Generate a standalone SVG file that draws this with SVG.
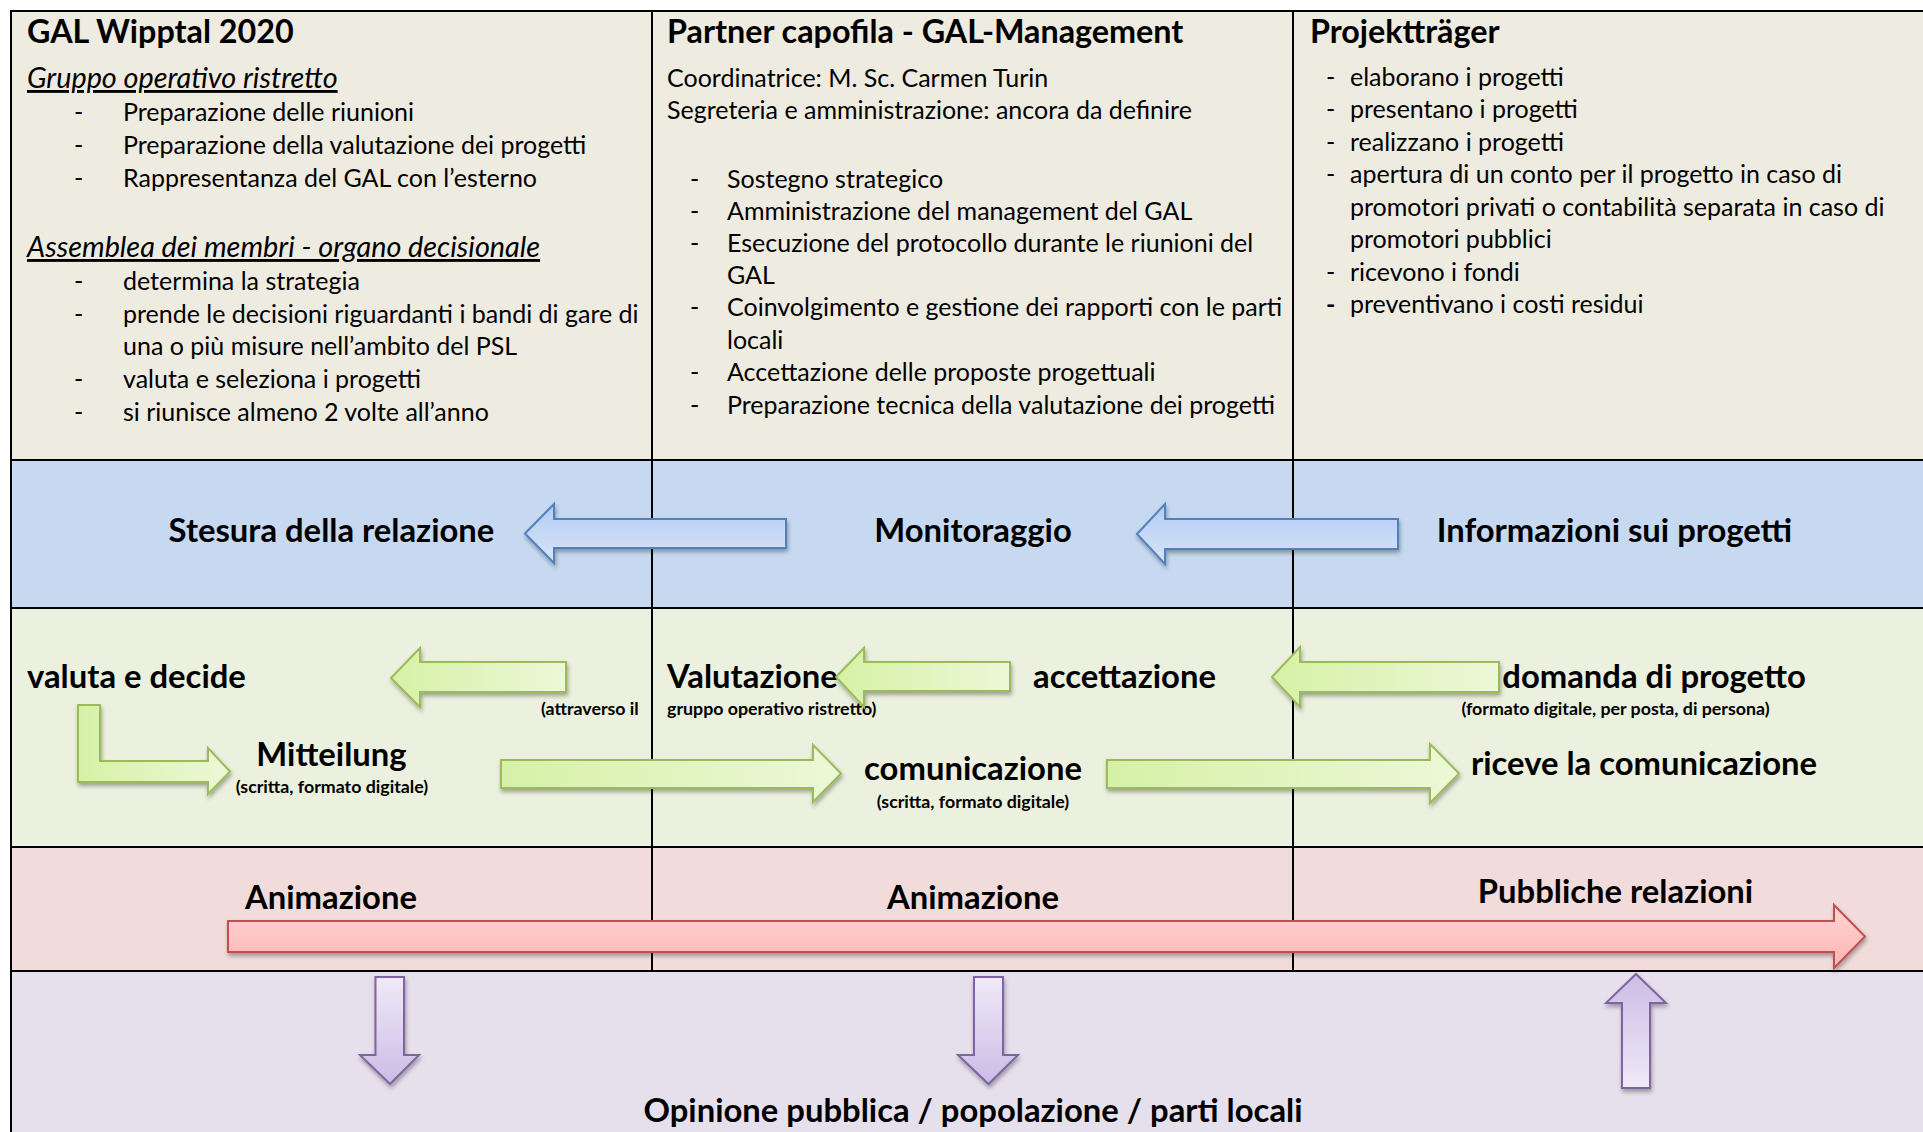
<svg xmlns="http://www.w3.org/2000/svg" width="1923" height="1132" viewBox="0 0 1923 1132">
<defs>
<style>
.t{font-family:Lato,"Open Sans","Liberation Sans",sans-serif;fill:#000}
.h{font-weight:bold;font-size:32.3px}
.b{font-size:25px}
.u{font-style:italic;text-decoration:underline;font-size:28.8px}
.L{font-weight:bold;font-size:32.8px}
.s{font-weight:bold;font-size:17.8px}
.m{text-anchor:middle}
.grid{stroke:#000;stroke-width:2;fill:none}
.blue{fill:url(#gBlue);stroke:#4F81BD;stroke-width:2;filter:url(#sh)}
.green{fill:url(#gGreen);stroke:#9BBB59;stroke-width:2;filter:url(#sh)}
.red{fill:url(#gRed);stroke:#C0504D;stroke-width:2;filter:url(#sh)}
.pd{fill:url(#gPurD);stroke:#8064A2;stroke-width:2;filter:url(#sh)}
.pu{fill:url(#gPurU);stroke:#8064A2;stroke-width:2;filter:url(#sh)}
</style>
<filter id="sh" x="-10%" y="-30%" width="130%" height="170%">
<feDropShadow dx="1" dy="3" stdDeviation="2" flood-color="#000" flood-opacity="0.33"/>
</filter>
<linearGradient id="gBlue" x1="0" y1="0" x2="0" y2="1"><stop offset="0" stop-color="#B2CBF4"/><stop offset="1" stop-color="#D9E5F9"/></linearGradient>
<linearGradient id="gGreen" x1="0" y1="0" x2="1" y2="0"><stop offset="0" stop-color="#D6F1A6"/><stop offset="1" stop-color="#ECF8D8"/></linearGradient>
<linearGradient id="gRed" x1="0" y1="0" x2="0" y2="1"><stop offset="0" stop-color="#FFD3D3"/><stop offset="1" stop-color="#FFB5B5"/></linearGradient>
<linearGradient id="gPurD" x1="0" y1="0" x2="0" y2="1"><stop offset="0" stop-color="#EFEAF8"/><stop offset="1" stop-color="#CBBCE5"/></linearGradient>
<linearGradient id="gPurU" x1="0" y1="0" x2="0" y2="1"><stop offset="0" stop-color="#CBBCE5"/><stop offset="1" stop-color="#EFEAF8"/></linearGradient>
</defs>
<rect width="1923" height="1132" fill="#fff"/>
<g id="bands">
<rect x="11" y="11" width="1912" height="449" fill="#EEEBE0"/>
<rect x="11" y="460" width="1912" height="148" fill="#C6D9F0"/>
<rect x="11" y="608" width="1912" height="239" fill="#EBF1DE"/>
<rect x="11" y="847" width="1912" height="124" fill="#F2DCDB"/>
<rect x="11" y="971" width="1912" height="161" fill="#E5E0EC"/>
</g>
<g id="grid" class="grid">
<line x1="10" y1="11" x2="1923" y2="11"/>
<line x1="11" y1="10" x2="11" y2="1132"/>
<line x1="652" y1="11" x2="652" y2="971"/>
<line x1="1293" y1="11" x2="1293" y2="971"/>
<line x1="11" y1="460" x2="1923" y2="460"/>
<line x1="11" y1="608" x2="1923" y2="608"/>
<line x1="11" y1="847" x2="1923" y2="847"/>
<line x1="11" y1="971" x2="1923" y2="971"/>
</g>
<g id="gal-wipptal" class="t">
<text class="h" x="27" y="43">GAL Wipptal 2020</text>
<text class="u" x="27" y="88">Gruppo operativo ristretto</text>
<g class="b">
<text x="74" y="121">-</text><text x="123" y="121">Preparazione delle riunioni</text>
<text x="74" y="154">-</text><text x="123" y="154">Preparazione della valutazione dei progetti</text>
<text x="74" y="187">-</text><text x="123" y="187">Rappresentanza del GAL con l’esterno</text>
</g>
<text class="u" x="27" y="257">Assemblea dei membri - organo decisionale</text>
<g class="b">
<text x="74" y="290">-</text><text x="123" y="290">determina la strategia</text>
<text x="74" y="323">-</text><text x="123" y="323">prende le decisioni riguardanti i bandi di gare di</text>
<text x="123" y="355">una o più misure nell’ambito del PSL</text>
<text x="74" y="388">-</text><text x="123" y="388">valuta e seleziona i progetti</text>
<text x="74" y="421">-</text><text x="123" y="421">si riunisce almeno 2 volte all’anno</text>
</g>
</g>
<g id="gal-management" class="t">
<text class="h" x="667" y="43">Partner capofila - GAL-Management</text>
<g class="b">
<text x="667" y="87">Coordinatrice: M. Sc. Carmen Turin</text>
<text x="667" y="119">Segreteria e amministrazione: ancora da definire</text>
<text x="690" y="188">-</text><text x="727" y="188">Sostegno strategico</text>
<text x="690" y="220">-</text><text x="727" y="220">Amministrazione del management del GAL</text>
<text x="690" y="252">-</text><text x="727" y="252">Esecuzione del protocollo durante le riunioni del</text>
<text x="727" y="284">GAL</text>
<text x="690" y="316">-</text><text x="727" y="316">Coinvolgimento e gestione dei rapporti con le parti</text>
<text x="727" y="349">locali</text>
<text x="690" y="381">-</text><text x="727" y="381">Accettazione delle proposte progettuali</text>
<text x="690" y="414">-</text><text x="727" y="414">Preparazione tecnica della valutazione dei progetti</text>
</g>
</g>
<g id="projekttraeger" class="t">
<text class="h" x="1310" y="43">Projektträger</text>
<g class="b">
<text x="1326" y="86">-</text><text x="1350" y="86">elaborano i progetti</text>
<text x="1326" y="118">-</text><text x="1350" y="118">presentano i progetti</text>
<text x="1326" y="151">-</text><text x="1350" y="151">realizzano i progetti</text>
<text x="1326" y="183">-</text><text x="1350" y="183">apertura di un conto per il progetto in caso di</text>
<text x="1350" y="216">promotori privati o contabilità separata in caso di</text>
<text x="1350" y="248">promotori pubblici</text>
<text x="1326" y="281">-</text><text x="1350" y="281">ricevono i fondi</text>
<text x="1326" y="313" font-weight="bold">-</text><text x="1350" y="313">preventivano i costi residui</text>
</g>
</g>
<g id="stesura" class="t"><text class="L m" x="331.5" y="542">Stesura della relazione</text></g>
<g id="monitoraggio" class="t"><text class="L m" x="973" y="542">Monitoraggio</text></g>
<g id="informazioni" class="t"><text class="L m" x="1614.5" y="542">Informazioni sui progetti</text></g>
<g id="valuta" class="t"><text class="L" x="27" y="688">valuta e decide</text>
<text class="s" x="541" y="715">(attraverso il</text></g>
<g id="valutazione" class="t"><text class="L" x="667" y="688">Valutazione</text>
<text class="s" x="667" y="715">gruppo operativo ristretto)</text></g>
<g id="accettazione" class="t"><text class="L m" x="1124.5" y="688">accettazione</text></g>
<g id="domanda" class="t"><text class="L m" x="1654" y="688">domanda di progetto</text>
<text class="s m" x="1615.5" y="715">(formato digitale, per posta, di persona)</text></g>
<g id="mitteilung" class="t"><text class="L m" x="331.5" y="766">Mitteilung</text>
<text class="s m" x="332" y="793">(scritta, formato digitale)</text></g>
<g id="comunicazione" class="t"><text class="L m" x="973" y="780">comunicazione</text>
<text class="s m" x="973" y="808">(scritta, formato digitale)</text></g>
<g id="riceve" class="t"><text class="L m" x="1644" y="775">riceve la comunicazione</text></g>
<g id="animazione1" class="t"><text class="L m" x="331" y="909">Animazione</text></g>
<g id="animazione2" class="t"><text class="L m" x="973" y="909">Animazione</text></g>
<g id="pr" class="t"><text class="L m" x="1615.5" y="903">Pubbliche relazioni</text></g>
<g id="opinione" class="t"><text class="L m" x="973" y="1122">Opinione pubblica / popolazione / parti locali</text></g>
<g id="connectors">
<path class="blue" d="M525,533.5 L554,504 L554,519 L786,519 L786,548 L554,548 L554,563 Z"/>
<path class="blue" d="M1137,534 L1165,504 L1165,519 L1398,519 L1398,549 L1165,549 L1165,564 Z"/>
<path class="green" d="M391,678 L420,648 L420,662 L566,662 L566,692 L420,692 L420,707 Z"/>
<path class="green" d="M836,677 L864,648 L864,662 L1010,662 L1010,691 L864,691 L864,707 Z"/>
<path class="green" d="M1272,677 L1300,647 L1300,662 L1499,662 L1499,692 L1300,692 L1300,707 Z"/>
<path class="green" d="M78,705 L100,705 L100,761 L208,761 L208,748 L230,771.5 L208,794 L208,782 L78,782 Z"/>
<path class="green" d="M501,760 L813,760 L813,745 L841,773.5 L813,802 L813,788 L501,788 Z"/>
<path class="green" d="M1107,760 L1430,760 L1430,744 L1459,773.5 L1430,803 L1430,788 L1107,788 Z"/>
<path class="red" d="M228,921 L1834,921 L1834,905 L1865,936.5 L1834,968 L1834,952 L228,952 Z"/>
<path class="pd" d="M375.5,977 L404,977 L404,1055 L419,1055 L390,1084 L360,1055 L375.5,1055 Z"/>
<path class="pd" d="M974,977 L1003,977 L1003,1055 L1018,1055 L988.5,1084 L958,1055 L974,1055 Z"/>
<path class="pu" d="M1636,974 L1666,1003 L1650,1003 L1650,1088 L1622,1088 L1622,1003 L1606,1003 Z"/>
</g>
</svg>
